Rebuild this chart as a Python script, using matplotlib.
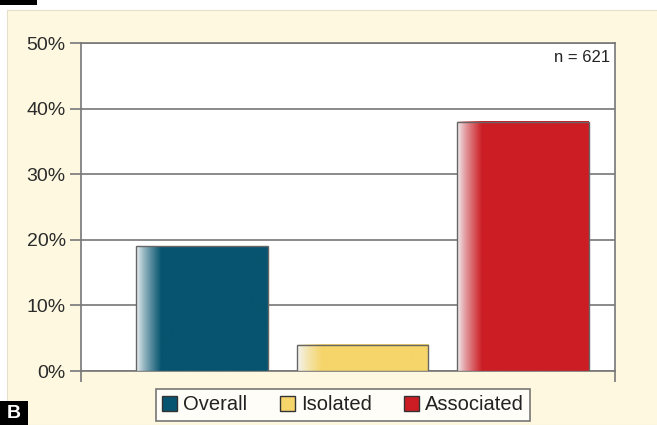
import numpy as np
import matplotlib.pyplot as plt
from matplotlib.colors import to_rgb
from matplotlib.patches import Rectangle

categories = ["Overall", "Isolated", "Associated"]
values = [19, 4, 38]
colors = ["#06546f", "#f6d56a", "#cc1d24"]
yticks = [0, 10, 20, 30, 40, 50]
note = "n = 621"

plt.rcParams['font.family'] = ['Liberation Sans', 'DejaVu Sans']

fig = plt.figure(figsize=(6.57, 4.25), dpi=100)
fig.patch.set_facecolor("white")
# cream panel behind the chart
fig.patches.append(Rectangle((7/657, 0), 1, 1 - 10/425, transform=fig.transFigure,
                             facecolor="#fdf8df", edgecolor="#e4e0cc", lw=0.8, zorder=-5))
# cropped black tab at top and panel label
fig.patches.append(Rectangle((0, 1 - 5/425), 37/657, 5/425, transform=fig.transFigure,
                             facecolor="black", zorder=-4))
fig.patches.append(Rectangle((0, 0), 28/657, 24/425, transform=fig.transFigure,
                             facecolor="black", zorder=-4))
fig.text(14/657, 11/425, "B", color="white", fontsize=14, fontweight="bold",
         ha="center", va="center")

ax = fig.add_axes([81/657, 54/425, 534/657, 328/425])
ax.set_facecolor("white")

x = np.arange(len(categories))
width = 0.82

for xi, v, c in zip(x, values, colors):
    x0 = xi - width/2
    n = 200
    t = np.linspace(0, 1, n)
    base = np.array(to_rgb(c))
    frac = np.clip(t / 0.19, 0, 1) ** 0.8
    img = (1 - frac)[:, None] * np.array([0.95, 0.96, 0.97]) + frac[:, None] * base
    ax.imshow(img[None, :, :], extent=[x0, x0 + width, 0, v], aspect="auto",
              zorder=3, interpolation="bilinear")
    ax.bar(xi, v, width=width, fill=False, edgecolor="#666666", linewidth=1.0, zorder=4)

ax.set_xlim(-0.754, 2.573)
ax.set_ylim(0, 50)
ax.set_yticks(yticks)
ax.set_yticklabels([f"{t}%" for t in yticks], fontsize=14, color="#2b2b2b")
ax.yaxis.grid(True, color="#777777", linewidth=1.2, zorder=1)
ax.set_axisbelow(True)
ax.set_xticks(ax.get_xlim())
ax.set_xticklabels([])
ax.tick_params(axis="both", direction="out", length=8, width=1.2, color="#777777")
ax.tick_params(axis="y", pad=3)
for s in ["left", "right", "bottom", "top"]:
    ax.spines[s].set_color("#777777")
    ax.spines[s].set_linewidth(1.2)

ax.text(0.99, 0.955, note, transform=ax.transAxes, ha="right", va="center",
        fontsize=12, color="#222222")

handles = [Rectangle((0, 0), 1, 1, facecolor=c, edgecolor="#333333", lw=1) for c in colors]
leg = fig.legend(handles, categories, loc="center", bbox_to_anchor=(343/657, 20/425),
                 ncol=3, fontsize=14.5, frameon=True, fancybox=False, handlelength=0.75,
                 handleheight=0.75, handletextpad=0.3, columnspacing=1.6,
                 borderpad=0.3, labelcolor="#222222")
leg.get_frame().set_edgecolor("#555555")
leg.get_frame().set_linewidth(1.2)
leg.get_frame().set_facecolor("white")

fig.savefig("out.png", dpi=100)
